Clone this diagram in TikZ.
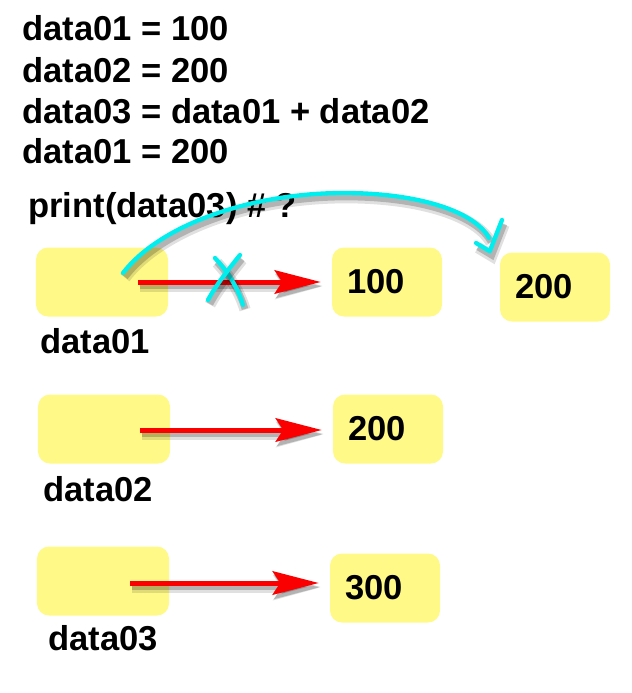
\documentclass[tikz,border=0pt]{standalone}
\usepackage{fontspec}
\setmainfont{Liberation Sans}
\usetikzlibrary{arrows.meta,positioning}
\definecolor{memYellow}{RGB}{255, 250, 135}
\definecolor{memRed}{RGB}{250, 0, 0}
\definecolor{memCyan}{RGB}{0, 238, 238}

\begin{document}
\begin{tikzpicture}[
  x=0.03cm, y=-0.03cm,
  every node/.style={font=\fontsize{29.5}{35}\selectfont\bfseries, inner sep=0pt},
  varbox/.style={
    fill=memYellow,
    rounded corners=0.36cm,
    minimum width=3.96cm,
    minimum height=2.07cm
  },
  valbox/.style={
    fill=memYellow,
    rounded corners=0.36cm,
    minimum width=3.3cm,
    minimum height=2.07cm,
    text width=2.4cm,
    inner xsep=0.45cm,
    align=left
  },
  codeline/.style={anchor=base west},
  shade/.style={
    preaction={draw=black, opacity=0.12, line width=0.34cm,
      transform canvas={shift={(0.06cm,-0.14cm)}}},
    preaction={draw=black, opacity=0.2, line width=0.2cm,
      transform canvas={shift={(0.06cm,-0.12cm)}}}},
  pointer/.style={
    shade,
    draw=memRed,
    line width=0.15cm,
    shorten >=0.33cm,
    -{Stealth[length=1.38cm, width=0.7cm, inset=0.22cm]}
  },
  scribble/.style={
    shade,
    draw=memCyan,
    line width=0.13cm,
    line cap=round,
    line join=round
  }
]
  \useasboundingbox (0,0) rectangle (631,693);

  % the code
  \node[codeline] (line1) at (22,40) {data01 = 100};
  \node[codeline] (line2) at (22,82) {data02 = 200};
  \node[codeline] (line3) at (22,123) {data03 = data01 + data02};
  \node[codeline] (line4) at (22,163) {data01 = 200};
  \node[codeline] (print) at (28,217) {print(data03) \# ?};

  % variables and values
  \node[varbox] (data1) at (102,282) {};
  \node[varbox] (data2) at (104,429) {};
  \node[varbox] (data3) at (103,581) {};
  \node[below=0.33cm of data1, xshift=-0.2cm] (name1) {data01};
  \node[below=0.38cm of data2, xshift=-0.18cm] (name2) {data02};
  \node[below=0.27cm of data3] (name3) {data03};

  \node[valbox] (val1) at (387,282) {100};
  \node[valbox] (val2) at (388,429) {200};
  \node[valbox] (val3) at (385,588) {300};
  \node[valbox] (newval) at (555,287) {200};

  \coordinate (from1) at (138,282);
  \coordinate (from2) at (140,430);
  \coordinate (from3) at (130,583);
  \draw[pointer] (from1) -- (from1 -| val1.west);
  \draw[pointer] (from2) -- (from2 -| val2.west);
  \draw[pointer] (from3) -- (from3 -| val3.west);

  % crossed out and moved
  \draw[scribble] (215,258) .. controls (228,272) and (238,288) .. (243,305);
  \draw[scribble] (240,255) .. controls (228,270) and (216,285) .. (208,300);

  \coordinate (hook) at (123,273);
  \coordinate (tick) at ([xshift=-0.3cm, yshift=0.03cm]newval.north west);
  \draw[scribble] (hook) .. controls (160,225) and (250,193) .. (344,193)
    .. controls (420,193) and (475,212) .. (489,238);
  \draw[scribble] (476,243) -- (tick) -- (502,220);
\end{tikzpicture}
\end{document}
